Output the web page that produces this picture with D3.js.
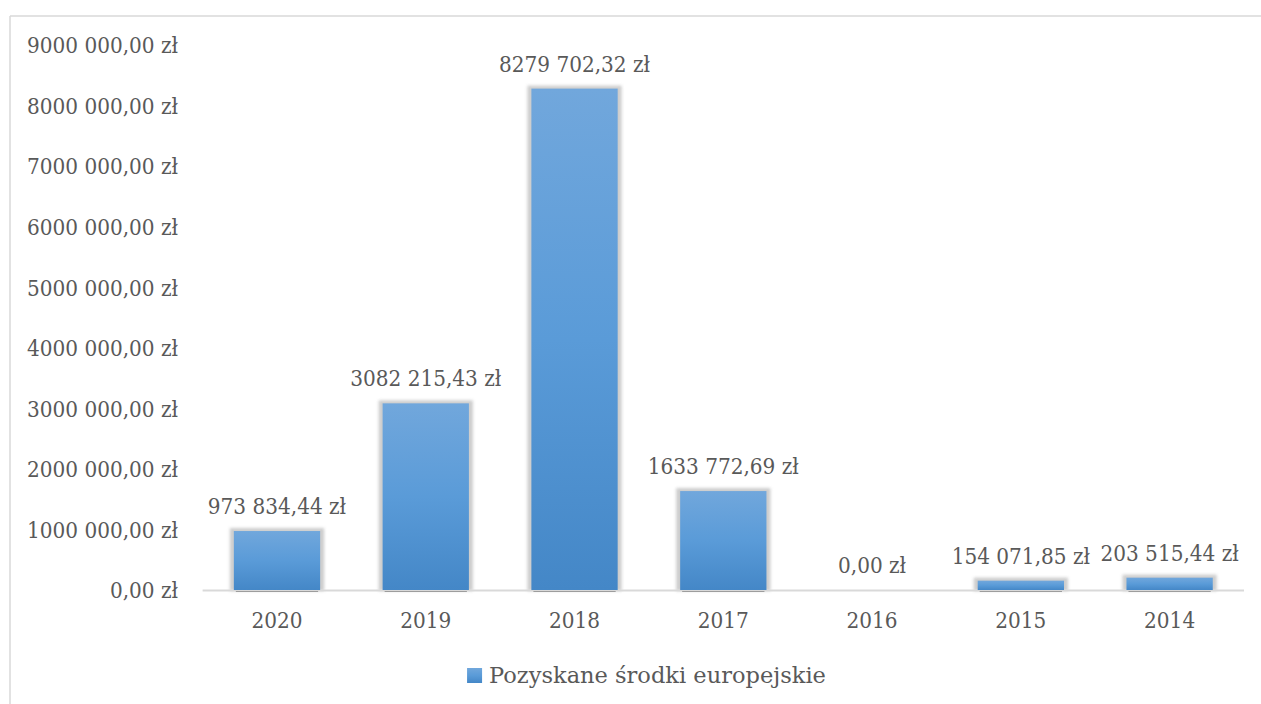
<!DOCTYPE html>
<html><head><meta charset="utf-8">
<script src="https://cdn.jsdelivr.net/npm/d3@7"></script>
<style>
html,body{margin:0;padding:0;background:#fff;}
svg{display:block;}
text{font-family:"DejaVu Serif Condensed","DejaVu Serif",serif;font-stretch:condensed;fill:#595959;}
text.legend{font-family:"DejaVu Serif",serif;font-stretch:normal;}
</style></head>
<body>
<svg id="chart" width="1261" height="704"></svg>
<script>
const categories = ["2020","2019","2018","2017","2016","2015","2014"];
const values = [973834.44, 3082215.43, 8279702.32, 1633772.69, 0, 154071.85, 203515.44];
const yTicks = [0,1000000,2000000,3000000,4000000,5000000,6000000,7000000,8000000,9000000];
const yTickLabels = ["0,00 zł","1000 000,00 zł","2000 000,00 zł","3000 000,00 zł","4000 000,00 zł","5000 000,00 zł","6000 000,00 zł","7000 000,00 zł","8000 000,00 zł","9000 000,00 zł"];
const seriesName = "Pozyskane środki europejskie";

function fmt(v){
  const parts = v.toFixed(2).split(".");
  let i = parts[0];
  if (i.length > 3) i = i.slice(0, i.length-3) + " " + i.slice(-3);
  return i + "," + parts[1] + " zł";
}

const svg = d3.select("#chart");
const W = 1261, H = 704;
const FS = 22.3;

// outer frame
svg.append("line").attr("x1",10).attr("x2",W).attr("y1",16).attr("y2",16)
  .attr("stroke","#d9d9d9").attr("stroke-width",1.5);
svg.append("line").attr("x1",10).attr("x2",10).attr("y1",16).attr("y2",H)
  .attr("stroke","#d9d9d9").attr("stroke-width",1.5);

const defs = svg.append("defs");
const grad = defs.append("linearGradient").attr("id","barGrad")
  .attr("x1",0).attr("y1",0).attr("x2",0).attr("y2",1);
grad.append("stop").attr("offset","0%").attr("stop-color","#71a7dc");
grad.append("stop").attr("offset","50%").attr("stop-color","#5a9bd8");
grad.append("stop").attr("offset","100%").attr("stop-color","#4487c7");
const blur = defs.append("filter").attr("id","shadow").attr("x","-20%").attr("y","-20%").attr("width","140%").attr("height","140%");
blur.append("feGaussianBlur").attr("stdDeviation",1.6);

const x = d3.scaleBand().domain(categories).range([202.6, 1244]).paddingInner(0.42).paddingOuter(0.21);
const y = d3.scaleLinear().domain([0, 9000000]).range([590, 45]);

// y tick labels
const yAxis = d3.axisLeft(y).tickValues(yTicks).tickSize(0).tickPadding(0)
  .tickFormat((d,i)=>yTickLabels[i]);
const gy = svg.append("g").attr("transform","translate(178,0)").call(yAxis);
gy.select(".domain").remove();
gy.selectAll("text").attr("font-size",FS).attr("fill","#595959")
  .style("font-family",null).attr("dy","0.35em");

// bars shadows
const bw = x.bandwidth();
svg.append("g").selectAll("rect").data(values).join("rect")
  .attr("x",(d,i)=>x(categories[i])-4)
  .attr("y",d=>y(d)-3)
  .attr("width",bw+8)
  .attr("height",d=>y(0)-y(d)+4)
  .attr("fill","#c8c8c8")
  .attr("opacity",d=>d>0?0.9:0)
  .attr("filter","url(#shadow)");

// axis line
const gx = svg.append("g").attr("transform","translate(0,590)")
  .call(d3.axisBottom(x).tickSize(0).tickPadding(0));
gx.select(".domain").attr("stroke","#d9d9d9").attr("stroke-width",2)
  .attr("d","M202.6,0.5H1244");
gx.selectAll("text").attr("font-size",FS).attr("fill","#595959")
  .style("font-family",null).attr("dy",null).attr("y",38);

// darker bottom edge under bars
svg.append("g").selectAll("line").data(values).join("line")
  .attr("x1",(d,i)=>x(categories[i])+2)
  .attr("x2",(d,i)=>x(categories[i])+bw-2)
  .attr("y1",591.5).attr("y2",591.5)
  .attr("stroke","#8c8c8c").attr("stroke-width",1)
  .attr("opacity",d=>d>0?0.8:0);

// bars
svg.append("g").selectAll("rect").data(values).join("rect")
  .attr("x",(d,i)=>x(categories[i]))
  .attr("y",d=>y(d))
  .attr("width",bw)
  .attr("height",d=>y(0)-y(d))
  .attr("fill","url(#barGrad)");

// data labels
svg.append("g").selectAll("text").data(values).join("text")
  .attr("x",(d,i)=>x(categories[i])+bw/2)
  .attr("y",d=>y(d)-17)
  .attr("text-anchor","middle")
  .attr("font-size",FS)
  .text(d=>fmt(d));

// legend
const lg = svg.append("g");
const legText = lg.append("text").attr("class","legend").attr("y",683).attr("font-size",22).text(seriesName);
let tw = legText.node().getComputedTextLength();
const lfs = Math.max(18, Math.min(26, 22 * 337 / tw));
legText.attr("font-size", lfs);
tw = legText.node().getComputedTextLength();
const total = 15 + 7 + tw;
const lx = (467 + 826)/2 - total/2;
lg.append("rect").attr("x",lx).attr("y",668).attr("width",15).attr("height",15).attr("fill","url(#barGrad)");
legText.attr("x",lx+22);
</script>
</body></html>
